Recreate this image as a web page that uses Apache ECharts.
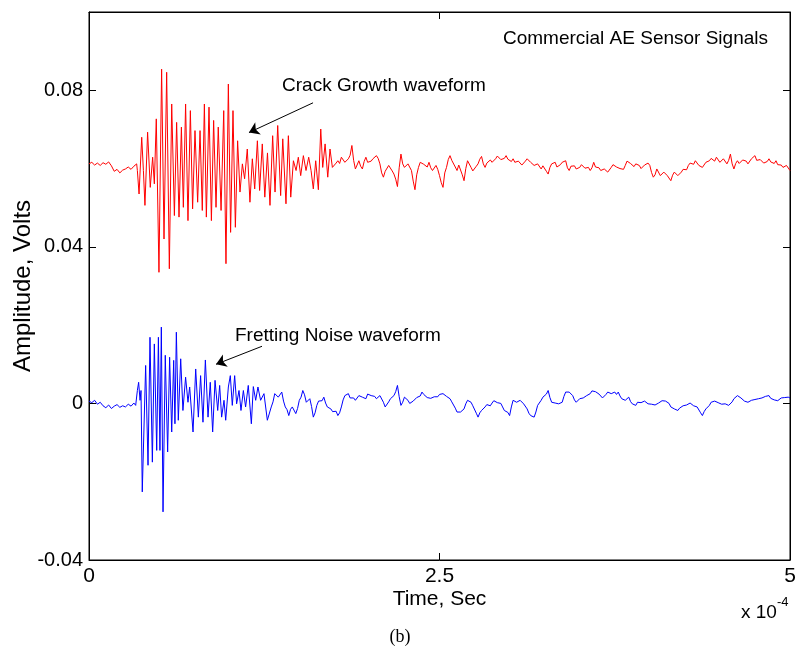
<!DOCTYPE html>
<html>
<head>
<meta charset="utf-8">
<script src="https://cdn.jsdelivr.net/npm/echarts@6/dist/echarts.min.js"></script>
<style>
  html, body { margin: 0; padding: 0; background: #fff; }
  #chart { width: 798px; height: 658px; }
</style>
</head>
<body>
<div id="chart"></div>
<script>
// Time in microseconds, amplitude in millivolts.

// Crack growth signal (upper trace)
const redStartT0 = 0, redStartStep = 2;
const redStart = [61.2, 61.6, 60.9, 61.4, 60.8, 61.5, 61.1, 61.7, 60.7, 59.3, 59.8, 58.9, 59.6, 59.9, 60.4, 59.8, 60.6, 61.2];
const redBurst = [
  [34.5,59.5],[35.7,53.5],[37.6,68.0],[38.8,59.5],[39.9,50.6],[41.8,69.3],[43.7,55.2],[45.4,62.9],[46.6,56.1],
  [48.0,72.7],[49.9,33.5],[51.8,85.4],[53.5,42.0],[55.4,84.6],[57.3,34.4],[59.0,76.5],[60.9,48.0],[62.5,71.8],
  [64.2,47.6],[65.9,70.6],[67.3,50.1],[68.9,76.5],[70.6,46.7],[72.3,74.8],[73.9,49.7],[75.6,69.7],[77.5,51.4],
  [79.2,69.7],[80.8,49.3],[82.3,76.5],[83.7,47.6],[85.6,75.7],[87.3,46.7],[88.9,72.3],[90.6,50.1],[92.2,70.6],
  [94.2,49.3],[96.1,74.8],[97.7,35.7],[99.4,81.6],[101.0,43.7],[102.7,74.8],[104.4,45.0],[106.0,67.1],[107.7,54.0],
  [109.4,61.2],[111.0,57.4],[112.9,65.0],[114.8,51.4],[116.5,62.5],[118.2,54.8],[120.1,67.1],[121.7,54.4],[123.6,66.3],
  [125.4,52.7],[127.3,64.0],[129.1,50.6],[131.0,68.4],[132.7,54.0],[134.6,71.0],[136.7,53.1],[138.2,67.6],[140.5,51.0],
  [142.2,68.4],[143.9,52.7],[145.8,62.0],[147.7,59.5],[149.3,62.9],[151.0,58.2],[152.9,63.3],[154.8,59.5],[156.7,62.9],
  [158.4,59.5],[160.0,54.8],[161.7,62.0],[163.6,54.6],[165.3,70.1],[166.7,60.3],[168.4,66.3],[170.3,57.8],[171.9,65.0],
  [173.6,60.3]
];
const redTailT0 = 175, redTailStep = 1.25;
const redTail = [
  59.9, 61.4, 62.0, 61.3, 62.9, 62.4, 61.6, 61.1, 62.5, 63.4, 65.9, 62.1, 59.9, 60.3, 62.0, 60.6, 59.9, 61.8, 62.9, 61.6,
  61.2, 61.9, 62.5, 62.4, 63.3, 62.6, 61.2, 58.9, 57.8, 59.3, 59.5, 60.8, 61.2, 59.4, 58.6, 57.3, 55.4, 60.2, 63.7, 61.2,
  60.3, 60.1, 61.2, 60.7, 59.5, 56.8, 54.6, 58.4, 60.3, 61.6, 62.0, 61.1, 60.8, 60.4, 61.6, 60.2, 59.5, 59.6, 60.8, 59.8,
  58.2, 56.4, 55.2, 58.9, 60.3, 62.3, 63.3, 62.1, 62.0, 60.4, 59.5, 60.9, 61.2, 58.4, 56.9, 60.0, 62.0, 61.5, 60.3, 59.4,
  59.5, 60.6, 61.2, 62.4, 63.1, 61.2, 60.3, 61.4, 61.6, 62.2, 61.6, 61.7, 62.5, 63.2, 62.9, 62.3, 62.2, 62.6, 63.3, 62.4,
  62.0, 61.8, 62.5, 61.6, 61.2, 61.9, 61.6, 60.9, 60.8, 61.9, 62.5, 62.3, 61.6, 61.5, 60.8, 60.5, 61.2, 60.9, 59.9, 60.7,
  60.8, 59.3, 58.6, 60.3, 61.2, 60.8, 61.6, 60.4, 59.9, 61.0, 61.6, 61.3, 62.0, 60.2, 59.5, 60.6, 60.8, 60.7, 59.9, 59.6,
  60.3, 61.0, 60.8, 60.1, 59.9, 60.3, 59.5, 60.2, 61.6, 60.4, 59.9, 60.2, 59.5, 59.0, 59.9, 59.9, 59.1, 59.4, 60.3, 61.0,
  61.2, 60.4, 60.3, 60.0, 59.5, 59.8, 60.8, 61.9, 62.2, 61.3, 61.0, 60.5, 61.2, 61.4, 60.8, 60.0, 60.3, 60.9, 61.2, 61.4,
  60.8, 59.0, 57.8, 58.4, 59.9, 59.4, 58.2, 58.0, 59.1, 58.9, 58.2, 57.9, 56.9, 58.3, 59.1, 59.0, 58.2, 58.2, 59.1, 59.8,
  59.9, 59.7, 60.8, 61.4, 61.2, 61.1, 62.0, 61.6, 60.8, 61.0, 60.3, 60.6, 61.6, 61.2, 62.0, 62.6, 62.5, 61.9, 62.9, 62.6,
  61.6, 61.6, 62.5, 62.3, 61.2, 62.1, 63.7, 61.2, 59.9, 61.3, 62.0, 61.3, 61.6, 62.2, 62.0, 61.9, 61.2, 61.4, 62.5, 62.6,
  63.3, 62.1, 61.6, 62.3, 62.0, 61.4, 61.6, 61.8, 62.5, 61.7, 61.6, 61.3, 62.0, 61.0, 60.8, 60.9, 60.3, 60.1, 60.8, 60.4,
  59.5
];

// Fretting noise signal (lower trace)
const blueStartT0 = 0, blueStartStep = 2;
const blueStart = [0.6, 0.2, 0.8, -0.2, 0.3, -0.6, -1.1, -0.4, -1.3, -0.7, -0.3, -1.0, -0.6, -0.9, -0.2, -0.7, 0.1];
const blueBurst = [
  [33.3,-0.5],[34.5,3.3],[35.4,5.4],[36.4,0.8],[37.1,3.3],[38.0,-22.6],[40.4,9.7],[42.1,-15.8],[43.5,16.9],
  [45.2,-15.0],[46.6,15.2],[48.3,-12.0],[49.5,16.9],[50.6,-12.0],[51.6,19.5],[52.8,-27.7],[54.4,12.3],[56.1,-12.4],
  [57.5,11.8],[59.0,-7.3],[60.4,11.0],[61.3,-5.2],[62.3,18.2],[63.7,-4.3],[65.4,11.4],[67.0,-1.8],[68.9,6.7],
  [70.6,0.3],[71.8,4.2],[74.2,-7.3],[76.1,8.8],[78.0,-3.5],[79.6,7.1],[81.3,-4.8],[83.0,11.1],[84.9,-3.5],
  [86.5,5.4],[88.2,-7.3],[89.9,5.9],[91.8,-1.8],[93.2,4.6],[94.6,-3.5],[96.3,0.8],[97.5,-4.3],[99.4,4.2],
  [100.8,7.1],[102.2,-0.5],[103.9,7.1],[105.3,-0.1],[107.0,3.3],[108.4,-1.8],[110.1,3.3],[111.7,-0.9],[113.6,4.6],
  [115.8,-5.2],[117.2,4.3],[118.9,0.8],[120.5,4.2],[122.4,0.8],[124.8,2.5],[127.2,-4.3]
];
const blueTailT0 = 130, blueTailStep = 1.25;
const blueTail = [
  -0.9, 0.4, 2.5, 2.6, 1.6, 1.7, 2.9, 0.6, -0.9, -1.6, -3.1, -1.5, -0.9, -1.2, -2.6, -1.3, 0.8, 1.6, 3.3, 2.2,
  0.3, 0.2, 1.2, -0.8, -3.5, -2.4, -0.5, 0.6, 0.8, 0.7, 1.6, 0.1, -0.9, -0.8, -1.4, -2.1, -2.2, -2.0, -3.1, -2.4,
  -0.9, 0.9, 2.0, 1.6, 2.5, 1.4, 1.2, 1.4, 0.8, 1.0, 2.0, 2.1, 1.6, 1.1, 1.2, 2.4, 2.9, 2.0, 1.6, 1.8,
  1.2, 1.2, 2.0, 1.6, 0.3, -0.9, -1.4, 0.4, 1.2, 1.0, 2.0, 3.0, 4.6, 1.7, -0.5, 0.3, 1.6, 1.5, 0.8, 0.0,
  -0.1, 0.6, 0.8, 1.5, 1.6, 1.9, 2.9, 2.3, 2.5, 1.5, 1.2, 1.3, 0.8, 1.7, 2.0, 1.7, 2.3, 2.7, 2.5, 2.0,
  1.8, 1.9, 1.2, 0.4, 0.3, -1.2, -2.2, -1.8, -2.2, -2.1, -1.4, -0.1, 0.8, 0.7, 0.3, -0.6, -0.9, -2.5, -3.5, -2.4,
  -1.8, -1.6, -0.9, -0.3, -0.5, -0.6, 0.1, 0.7, 0.8, 0.2, 0.6, 0.0, -0.9, -1.8, -2.2, -2.3, -3.1, -0.9, 0.8, 0.8,
  0.3, 0.2, 0.8, 0.6, -0.1, -0.4, -1.4, -2.5, -3.1, -2.9, -3.5, -2.2, -0.5, -0.2, 0.8, 1.6, 2.0, 2.4, 3.3, 1.5,
  0.3, 0.5, 0.1, -0.4, -0.1, 0.2, 0.3, 1.8, 2.9, 2.4, 2.9, 2.7, 2.0, 0.9, 0.3, 0.8, 1.2, 1.0, 1.4, 1.9,
  2.0, 2.0, 2.5, 3.2, 3.7, 3.0, 2.5, 2.4, 2.0, 1.4, 1.2, 2.3, 2.9, 2.4, 2.5, 2.8, 2.9, 2.3, 2.9, 1.9,
  1.2, 1.3, 0.8, 0.9, 1.6, 0.5, -0.1, -0.5, -0.5, 0.3, 0.8, 0.2, 0.3, 0.6, 0.3, -0.1, -0.3, -0.2, -0.5, -0.4,
  -0.1, 0.1, 0.3, 0.7, 0.8, 0.6, 1.0, 0.0, -0.9, -1.0, -1.4, -1.8, -1.8, -1.2, -0.9, -0.6, -0.1, -0.4, -0.3, 0.1,
  -0.1, -0.6, -0.8, -0.9, -1.4, -2.4, -3.1, -2.1, -1.4, -1.1, -0.5, 0.3, 0.8, 0.6, 0.1, 0.2, -0.1, -0.2, 0.3, -0.1,
  -0.5, -0.5, -0.9, 0.4, 1.2, 1.5, 2.0, 1.5, 1.4, 1.1, 0.6, 0.6, 0.3, 0.4, 0.8, 1.2, 1.0, 0.8, 1.2, 1.5,
  1.4, 1.4, 1.8, 2.2, 2.0, 1.3, 0.8, 0.9, 0.6, 0.7, 1.0, 1.4, 1.2, 1.5, 2.0, 1.6, 1.4
];

// Axis ranges: time in units of 1e-4 s, amplitude in volts
const xRange = [0, 5], xStep = 2.5;
const yRange = [-0.04, 0.1], yStep = 0.04;

// Annotation arrows: [from, to] in axis units
const crackArrow = [[1.598, 0.0768], [1.141, 0.0692]];
const frettingArrow = [[1.234, 0.0146], [0.906, 0.0100]];
const notes = [
  { text: 'Crack Growth waveform', at: [1.377, 0.0812] },
  { text: 'Fretting Noise waveform', at: [1.041, 0.01736] }
];

const FONT = '"Liberation Sans", Arial, Helvetica, sans-serif';

function toPoints(t0, step, startVals, burst, tailT0, tailStep, tailVals) {
  const pts = [];
  startVals.forEach((v, i) => pts.push([(t0 + i * step) / 100, v / 1000]));
  burst.forEach(([t, v]) => pts.push([t / 100, v / 1000]));
  tailVals.forEach((v, i) => pts.push([(tailT0 + i * tailStep) / 100, v / 1000]));
  return pts;
}

const redData = toPoints(redStartT0, redStartStep, redStart, redBurst, redTailT0, redTailStep, redTail);
const blueData = toPoints(blueStartT0, blueStartStep, blueStart, blueBurst, blueTailT0, blueTailStep, blueTail);

const axisLine = { show: true, onZero: false, lineStyle: { color: '#000', width: 1 } };
const tick = { show: true, inside: true, length: 7, lineStyle: { color: '#000', width: 1 } };

const chart = echarts.init(document.getElementById('chart'), null, { renderer: 'canvas' });

chart.setOption({
  animation: false,
  backgroundColor: '#fff',
  title: {
    text: 'Commercial AE Sensor Signals',
    right: 25, top: 24,
    textStyle: { fontFamily: FONT, fontSize: 19, fontWeight: 'normal', color: '#000' }
  },
  grid: {
    left: 89, top: 12, right: 8, bottom: 98, containLabel: false, outerBoundsMode: 'none',
    show: true, borderColor: '#000', borderWidth: 1, backgroundColor: '#fff'
  },
  xAxis: [
    {
      type: 'value', min: xRange[0], max: xRange[1], interval: xStep, position: 'bottom',
      axisLine, axisTick: tick, splitLine: { show: false },
      axisLabel: { color: '#000', fontFamily: FONT, fontSize: 21, margin: 6,
        formatter: v => String(+v.toFixed(1)) },
      name: 'Time, Sec', nameLocation: 'middle', nameGap: 29, nameMoveOverlap: false,
      nameTextStyle: { color: '#000', fontFamily: FONT, fontSize: 21 }
    },
    {
      type: 'value', min: xRange[0], max: xRange[1], interval: xStep, position: 'top',
      axisLine, axisTick: tick, axisLabel: { show: false }, splitLine: { show: false }
    }
  ],
  yAxis: [
    {
      type: 'value', min: yRange[0], max: yRange[1], interval: yStep, position: 'left',
      axisLine, axisTick: tick, splitLine: { show: false },
      axisLabel: { color: '#000', fontFamily: FONT, fontSize: 20, margin: 6, showMaxLabel: false,
        formatter: v => (Math.abs(v) < 1e-9 ? '0' : String(+v.toFixed(2))) },
      name: 'Amplitude, Volts', nameLocation: 'middle', nameGap: 54, nameMoveOverlap: false,
      nameTextStyle: { color: '#000', fontFamily: FONT, fontSize: 24 }
    },
    {
      type: 'value', min: yRange[0], max: yRange[1], interval: yStep, position: 'right',
      axisLine, axisTick: tick, axisLabel: { show: false }, splitLine: { show: false }
    }
  ],
  series: [
    {
      name: 'Crack Growth', type: 'line', data: redData, xAxisIndex: 0, yAxisIndex: 0,
      showSymbol: false, lineStyle: { color: '#ff0000', width: 1 }, z: 3,
      markLine: {
        silent: true, animation: false, symbol: ['none', 'arrow'], symbolSize: 10,
        label: { show: false }, lineStyle: { color: '#000', width: 1, type: 'solid' },
        data: [[{ coord: crackArrow[0] }, { coord: crackArrow[1] }]]
      }
    },
    {
      name: 'Fretting Noise', type: 'line', data: blueData, xAxisIndex: 0, yAxisIndex: 0,
      showSymbol: false, lineStyle: { color: '#0000ff', width: 1 }, z: 3,
      markLine: {
        silent: true, animation: false, symbol: ['none', 'arrow'], symbolSize: 10,
        label: { show: false }, lineStyle: { color: '#000', width: 1, type: 'solid' },
        data: [[{ coord: frettingArrow[0] }, { coord: frettingArrow[1] }]]
      }
    }
  ]
});

// Text annotations anchored in axis units, plus the exponent note and caption
const graphics = notes.map(n => {
  const p = chart.convertToPixel({ gridIndex: 0 }, n.at);
  return { type: 'text', x: p[0], y: p[1], z: 10,
    style: { text: n.text, fontFamily: FONT, fontSize: 19, fill: '#000', align: 'left', verticalAlign: 'middle' } };
});
graphics.push(
  { type: 'text', x: 741, y: 613, z: 10,
    style: { text: 'x 10', fontFamily: FONT, fontSize: 19, fill: '#000', align: 'left', verticalAlign: 'middle' } },
  { type: 'text', x: 777, y: 602, z: 10,
    style: { text: '-4', fontFamily: FONT, fontSize: 13, fill: '#000', align: 'left', verticalAlign: 'middle' } },
  { type: 'text', x: 400, y: 637, z: 10,
    style: { text: '(b)', fontFamily: '"Liberation Serif", "Times New Roman", serif', fontSize: 18, fill: '#000', align: 'center', verticalAlign: 'middle' } }
);
chart.setOption({ graphic: graphics });
</script>
</body>
</html>
